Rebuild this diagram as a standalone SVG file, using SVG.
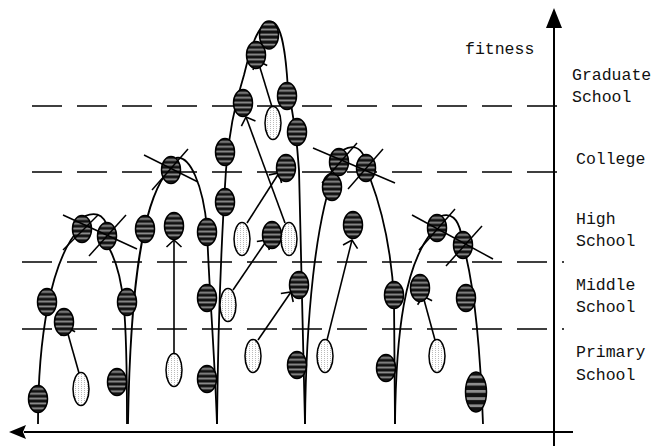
<svg xmlns="http://www.w3.org/2000/svg" width="666" height="446" viewBox="0 0 666 446">
<style>
.s{fill:url(#stripe);stroke:#000;stroke-width:1.5}
.d{fill:url(#dots);stroke:#000;stroke-width:1.5}
.x{stroke:#000;stroke-width:1.5;fill:none}
.c{fill:none;stroke:#000;stroke-width:1.8}
.a{fill:none;stroke:#000;stroke-width:1.6;marker-end:url(#v)}
.dash{stroke:#000;stroke-width:1.6;stroke-dasharray:30 15;fill:none}
.ax{stroke:#000;stroke-width:2;fill:none}
text{font-family:"Liberation Mono","Courier New",monospace;font-size:16.5px;fill:#111}
</style>
<defs>
<pattern id="stripe" patternUnits="objectBoundingBox" patternContentUnits="objectBoundingBox" width="1" height="0.18">
<rect width="1" height="0.18" fill="#111"/>
<rect y="0.09" width="1" height="0.07" fill="#8c8c8c"/>
</pattern>
<pattern id="dots" patternUnits="userSpaceOnUse" width="3" height="2">
<rect width="3" height="2" fill="#fff"/>
<rect width="1" height="1" fill="#bbb"/>
</pattern>
<marker id="v" markerUnits="userSpaceOnUse" markerWidth="24" markerHeight="24" refX="12" refY="12" orient="auto" overflow="visible">
<path d="M5,4.5 L12,12 L5,19.5" fill="none" stroke="#000" stroke-width="1.6"/>
</marker>
</defs>
<rect width="666" height="446" fill="#fff"/>
<g id="levels">
<line class="dash" x1="32" y1="106" x2="559" y2="106"/>
<line class="dash" x1="32" y1="172" x2="559" y2="172"/>
<line class="dash" x1="22" y1="262" x2="564" y2="262"/>
<line class="dash" x1="22" y1="329" x2="564" y2="329"/>
</g>
<g id="axes">
<line class="ax" x1="554" y1="446" x2="554" y2="26"/>
<polygon points="554,8 546,28 562,28" fill="#000"/>
<line class="ax" x1="573" y1="432" x2="24" y2="432"/>
<polygon points="9,432 26,425 23,432 26,439" fill="#000"/>
</g>
<g id="connectors">
<path class="c" d="M38,424 C38,340 50,260 80,228"/>
<path class="c" d="M85,216 Q100,210 106,223"/>
<path class="c" d="M109,248 C124,275 127,310 127,424"/>
<path class="c" d="M128,424 C130,300 140,210 165,175"/>
<path class="c" d="M176,158 C190,155 203,185 207,228 C209,290 214,340 217,424"/>
<path class="c" d="M217,424 C218,330 222,230 226,170 C229,130 236,100 244,75 C250,50 258,22 271,22 C282,22 286,55 288,90 Q296,125 299,170 L305,424"/>
<path class="c" d="M305,424 C306,320 315,220 336,168"/>
<path class="c" d="M343,150 Q357,142 364,156"/>
<path class="c" d="M370,178 C384,215 392,260 394,300 L395,424"/>
<path class="c" d="M395,424 C396,330 405,265 432,232"/>
<path class="c" d="M441,216 Q456,211 461,233"/>
<path class="c" d="M466,256 C474,290 480,340 483,424"/>
<path class="a" d="M79,373 L66,327"/>
<path class="a" d="M174,353 L174,240"/>
<path class="a" d="M272,107 L258,61"/>
<path class="a" d="M285,223 L246,117"/>
<path class="a" d="M247,223 L279,173"/>
<path class="a" d="M233,290 L267,240"/>
<path class="a" d="M258,340 L291,292"/>
<path class="a" d="M327,340 L352,240"/>
<path class="a" d="M435,340 L423,296"/>
</g>
<g id="n1"><ellipse class="s" cx="38" cy="399" rx="9.5" ry="13.5"/></g>
<g id="n2"><ellipse class="s" cx="47" cy="302" rx="9.5" ry="13.5"/></g>
<g id="n3"><ellipse class="s" cx="64" cy="322" rx="9.5" ry="13.5"/></g>
<g id="n4"><ellipse class="d" cx="81" cy="389" rx="8" ry="16.5"/></g>
<g id="n5"><ellipse class="s" cx="82" cy="229" rx="9.5" ry="13.5"/><line class="x" x1="98" y1="215" x2="63" y2="250"/></g>
<g id="n6"><ellipse class="s" cx="107" cy="236" rx="9.5" ry="13.5"/><line class="x" x1="126" y1="215" x2="89" y2="256"/><line class="x" x1="63" y1="215" x2="137" y2="249"/></g>
<g id="n7"><ellipse class="s" cx="127" cy="302" rx="9.5" ry="13.5"/></g>
<g id="n8"><ellipse class="s" cx="117" cy="382" rx="9.5" ry="13.5"/></g>
<g id="n9"><ellipse class="s" cx="145" cy="229" rx="9.5" ry="13.5"/></g>
<g id="n10"><ellipse class="s" cx="174" cy="226" rx="9.5" ry="13.5"/></g>
<g id="n11"><ellipse class="d" cx="174" cy="370" rx="8" ry="16.5"/></g>
<g id="n12"><ellipse class="s" cx="171" cy="170" rx="9.5" ry="13.5"/><line class="x" x1="144" y1="155" x2="198" y2="182"/><line class="x" x1="188" y1="149" x2="152" y2="190"/></g>
<g id="n13"><ellipse class="s" cx="207" cy="232" rx="9.5" ry="13.5"/></g>
<g id="n14"><ellipse class="s" cx="207" cy="298" rx="9.5" ry="13.5"/></g>
<g id="n15"><ellipse class="s" cx="207" cy="379" rx="9.5" ry="13.5"/></g>
<g id="n16"><ellipse class="s" cx="225" cy="202" rx="9.5" ry="13.5"/></g>
<g id="n17"><ellipse class="s" cx="225" cy="152" rx="9.5" ry="13.5"/></g>
<g id="n18"><ellipse class="s" cx="243" cy="103" rx="9.5" ry="13.5"/></g>
<g id="n19"><ellipse class="s" cx="256" cy="55" rx="9.5" ry="13.5"/></g>
<g id="n20"><ellipse class="s" cx="269" cy="35" rx="9.5" ry="14"/></g>
<g id="n21"><ellipse class="d" cx="273" cy="123" rx="8" ry="16.5"/></g>
<g id="n22"><ellipse class="s" cx="287" cy="96" rx="9.5" ry="13.5"/></g>
<g id="n23"><ellipse class="s" cx="297" cy="132" rx="9.5" ry="13.5"/></g>
<g id="n24"><ellipse class="s" cx="286" cy="168" rx="9.5" ry="13.5"/></g>
<g id="n25"><ellipse class="d" cx="242" cy="239" rx="8" ry="16.5"/></g>
<g id="n26"><ellipse class="s" cx="272" cy="235" rx="9.5" ry="13.5"/></g>
<g id="n27"><ellipse class="d" cx="289" cy="239" rx="8" ry="16.5"/></g>
<g id="n28"><ellipse class="d" cx="228" cy="305" rx="8" ry="16.5"/></g>
<g id="n29"><ellipse class="s" cx="299" cy="285" rx="9.5" ry="13.5"/></g>
<g id="n30"><ellipse class="d" cx="253" cy="356" rx="8" ry="16.5"/></g>
<g id="n31"><ellipse class="s" cx="297" cy="365" rx="9.5" ry="13.5"/></g>
<g id="n32"><ellipse class="s" cx="332" cy="187" rx="9.5" ry="13.5"/></g>
<g id="n33"><ellipse class="s" cx="339" cy="162" rx="9.5" ry="13.5"/><line class="x" x1="357" y1="143" x2="322" y2="183"/></g>
<g id="n34"><ellipse class="s" cx="366" cy="168" rx="9.5" ry="13.5"/><line class="x" x1="383" y1="149" x2="348" y2="189"/><line class="x" x1="313" y1="148" x2="395" y2="183"/></g>
<g id="n35"><ellipse class="s" cx="353" cy="225" rx="9.5" ry="13.5"/></g>
<g id="n36"><ellipse class="d" cx="325" cy="356" rx="8" ry="16.5"/></g>
<g id="n37"><ellipse class="s" cx="394" cy="295" rx="9.5" ry="13.5"/></g>
<g id="n38"><ellipse class="s" cx="386" cy="368" rx="9.5" ry="13.5"/></g>
<g id="n39"><ellipse class="s" cx="437" cy="228" rx="9.5" ry="13.5"/><line class="x" x1="455" y1="209" x2="419" y2="250"/></g>
<g id="n40"><ellipse class="s" cx="463" cy="245" rx="9.5" ry="13.5"/><line class="x" x1="482" y1="226" x2="446" y2="266"/><line class="x" x1="412" y1="215" x2="493" y2="259"/></g>
<g id="n41"><ellipse class="s" cx="420" cy="288" rx="9.5" ry="13.5"/></g>
<g id="n42"><ellipse class="d" cx="437" cy="356" rx="8" ry="16.5"/></g>
<g id="n43"><ellipse class="s" cx="466" cy="298" rx="9.5" ry="13.5"/></g>
<g id="n44"><ellipse class="s" cx="476" cy="392" rx="10.5" ry="20"/></g>
<g id="labels">
<text x="465" y="54">fitness</text>
<text x="572" y="80">Graduate</text>
<text x="572" y="102">School</text>
<text x="576" y="164">College</text>
<text x="576" y="224">High</text>
<text x="576" y="246">School</text>
<text x="576" y="290">Middle</text>
<text x="576" y="312">School</text>
<text x="576" y="357">Primary</text>
<text x="576" y="380">School</text>
</g>
</svg>
